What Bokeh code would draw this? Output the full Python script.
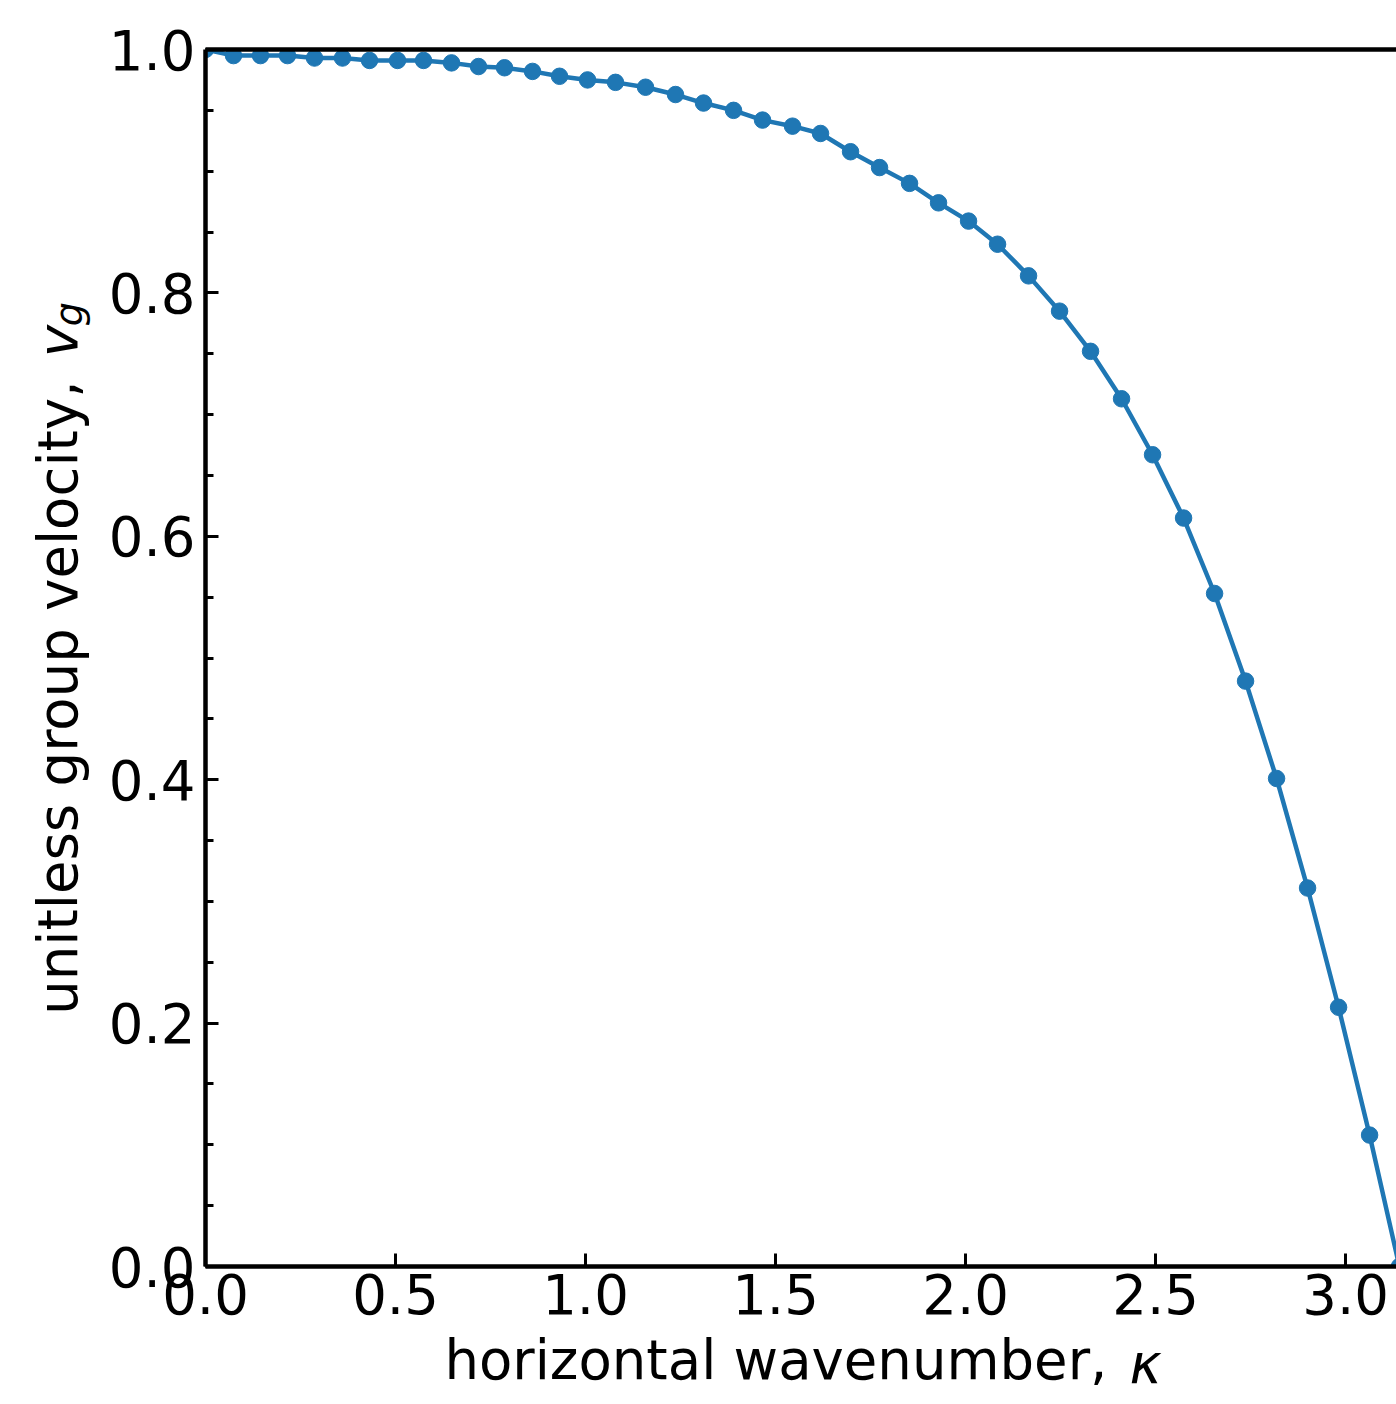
from bokeh.plotting import figure
from bokeh.models import FixedTicker, PrintfTickFormatter, Range1d, LinearAxis, CustomJSTickFormatter
from bokeh.embed import file_html
from bokeh.resources import INLINE

# horizontal wavenumber (kappa) and unitless group velocity (v_g)
kappa = [0.0, 0.0737, 0.1447, 0.2158, 0.2868, 0.3605, 0.4316, 0.5053, 0.5737, 0.6474,
         0.7184, 0.7868, 0.8605, 0.9316, 1.0053, 1.0789, 1.1579, 1.2368, 1.3105, 1.3895,
         1.4658, 1.5447, 1.6184, 1.6974, 1.7737, 1.8526, 1.9289, 2.0079, 2.0842, 2.1658,
         2.2474, 2.3289, 2.4105, 2.4921, 2.5737, 2.6553, 2.7368, 2.8184, 2.9000, 2.9816,
         3.0632, 3.1416]
vg = [1.000, 0.995, 0.995, 0.995, 0.993, 0.993, 0.991, 0.991, 0.991, 0.989,
      0.986, 0.985, 0.982, 0.978, 0.975, 0.973, 0.969, 0.963, 0.956, 0.950,
      0.942, 0.937, 0.931, 0.916, 0.903, 0.890, 0.874, 0.859, 0.840, 0.814,
      0.785, 0.752, 0.713, 0.667, 0.615, 0.553, 0.481, 0.401, 0.311, 0.213,
      0.108, 0.000]

x_ticks = [0.0, 0.5, 1.0, 1.5, 2.0, 2.5, 3.0]
y_ticks = [0.0, 0.2, 0.4, 0.6, 0.8, 1.0]
y_minor = [i * 0.05 for i in range(21)]

x_label_text = "horizontal wavenumber,"
x_label_sym = "κ"
y_label_text = "unitless group velocity,"
y_label_sym = "v"
y_label_sub = "g"

FONT = "DejaVu Sans"
FS = "54.5px"
BLUE = "#1f77b4"

p = figure(width=1396, height=1404, output_backend="svg", toolbar_location=None,
           x_range=Range1d(0, 3.134), y_range=Range1d(0, 1.0),
           min_border_left=205, min_border_right=0, min_border_top=49, min_border_bottom=138)
p.outline_line_color = None
p.grid.visible = False
p.background_fill_color = "white"
p.border_fill_color = "white"

p.line(kappa, vg, line_color=BLUE, line_width=4.5)
p.scatter(kappa, vg, size=16.5, fill_color=BLUE, line_color=BLUE)

for ax in (p.xaxis[0], p.yaxis[0]):
    ax.axis_line_width = 4.5
    ax.axis_line_color = "black"
    ax.major_tick_in = 13
    ax.major_tick_out = 0
    ax.major_tick_line_width = 3
    ax.minor_tick_in = 8
    ax.minor_tick_out = 0
    ax.minor_tick_line_width = 3
    ax.major_label_text_font = FONT
    ax.major_label_text_font_size = FS
    ax.major_label_text_color = "black"
    ax.formatter = PrintfTickFormatter(format="%.1f")

p.xaxis[0].ticker = FixedTicker(ticks=x_ticks, minor_ticks=[])
p.yaxis[0].ticker = FixedTicker(ticks=y_ticks, minor_ticks=y_minor)
p.xaxis[0].major_label_standoff = 7
p.yaxis[0].major_label_standoff = 10

# top spine
top = LinearAxis(ticker=FixedTicker(ticks=[], minor_ticks=[]), axis_line_width=4.5,
                 axis_line_color="black", major_tick_line_color=None, minor_tick_line_color=None,
                 major_label_text_alpha=0)
p.add_layout(top, "above")


def text_axis(pos, text, standoff, style="normal", size=FS, vertical=False):
    ax = LinearAxis(ticker=FixedTicker(ticks=[pos], minor_ticks=[]),
                    formatter=CustomJSTickFormatter(args=dict(txt=text), code="return txt"),
                    axis_line_color=None, major_tick_line_color=None, minor_tick_line_color=None,
                    major_tick_in=0, major_tick_out=0, minor_tick_in=0, minor_tick_out=0,
                    major_label_standoff=standoff, major_label_text_font=FONT,
                    major_label_text_font_size=size, major_label_text_font_style=style,
                    major_label_text_color="black")
    if vertical:
        ax.major_label_orientation = "vertical"
    return ax


# x axis label: text pieces positioned along the x scale (centres of the pieces)
p.add_layout(text_axis(1.501, x_label_text, 11), "below")
p.add_layout(text_axis(2.474, x_label_sym, -63, style="italic"), "below")

# y axis label (rotated) pieces positioned along the y scale
p.add_layout(text_axis(0.4674, y_label_text, 15, vertical=True), "left")
p.add_layout(text_axis(0.7603, y_label_sym, -67, style="italic", vertical=True), "left")
p.add_layout(text_axis(0.7825, y_label_sub, -68, style="italic", size="38px", vertical=True), "left")

open("out.html", "w").write(file_html(p, INLINE))
